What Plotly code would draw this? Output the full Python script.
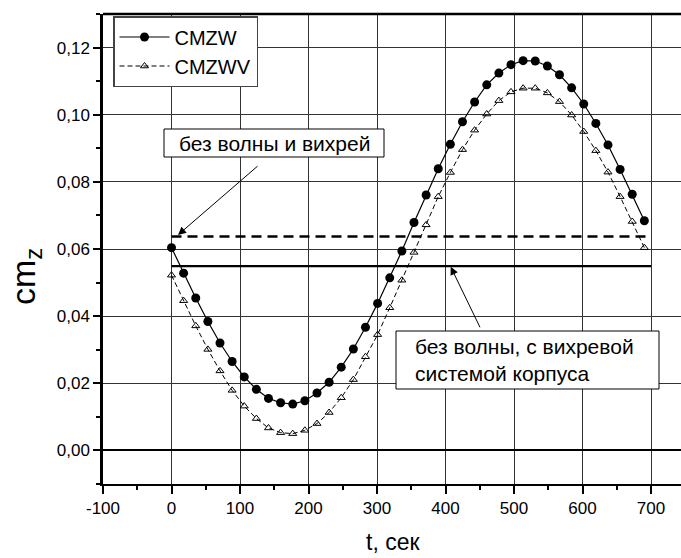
import plotly.graph_objects as go

t = [0, 17.7, 35.4, 53.1, 70.8, 88.5, 106.2, 123.9, 141.6, 159.3,
     177.0, 194.7, 212.4, 230.1, 247.8, 265.5, 283.2, 300.9, 318.6, 336.3,
     354.0, 371.7, 389.4, 407.1, 424.8, 442.5, 460.2, 477.9, 495.6, 513.3,
     531.0, 548.7, 566.4, 584.1, 601.8, 619.5, 637.2, 654.9, 672.6, 690.3]

cmzw = [0.0604, 0.0528, 0.0454, 0.0384, 0.0320, 0.0265, 0.0219, 0.0182, 0.0155, 0.0142,
        0.0138, 0.0148, 0.0171, 0.0203, 0.0248, 0.0302, 0.0367, 0.0438, 0.0514, 0.0594,
        0.0679, 0.0761, 0.0839, 0.0912, 0.0979, 0.1038, 0.1089, 0.1124, 0.1149, 0.1161,
        0.1160, 0.1145, 0.1119, 0.1080, 0.1032, 0.0974, 0.0910, 0.0837, 0.0763, 0.0684]

cmzwv = [0.0522, 0.0446, 0.0371, 0.0301, 0.0237, 0.0179, 0.0132, 0.0095, 0.0067, 0.0053,
         0.0050, 0.0060, 0.0080, 0.0113, 0.0157, 0.0211, 0.0279, 0.0345, 0.0425, 0.0507,
         0.0590, 0.0672, 0.0756, 0.0828, 0.0896, 0.0954, 0.1002, 0.1042, 0.1068, 0.1079,
         0.1079, 0.1065, 0.1039, 0.0999, 0.0950, 0.0893, 0.0829, 0.0756, 0.0682, 0.0604]

ref_t = [0, 700]
no_wave_no_vortex = [0.0637, 0.0637]
no_wave_hull_vortex = [0.0549, 0.0549]

x_ticks = [-100, 0, 100, 200, 300, 400, 500, 600, 700]
x_ticktext = ["-100", "0", "100", "200", "300", "400", "500", "600", "700"]
y_ticks = [0.00, 0.02, 0.04, 0.06, 0.08, 0.10, 0.12]
y_ticktext = ["0,00", "0,02", "0,04", "0,06", "0,08", "0,10", "0,12"]

FONT = "Arial, 'Liberation Sans', sans-serif"

fig = go.Figure()

fig.add_trace(go.Scatter(x=ref_t, y=no_wave_no_vortex, mode="lines",
                         line=dict(color="black", width=2.5, dash="10px,6px"),
                         showlegend=False, hoverinfo="skip"))
fig.add_trace(go.Scatter(x=ref_t, y=no_wave_hull_vortex, mode="lines",
                         line=dict(color="black", width=2.2),
                         showlegend=False, hoverinfo="skip"))

fig.add_trace(go.Scatter(x=t, y=cmzw, mode="lines+markers", name="CMZW",
                         line=dict(color="black", width=1.2),
                         marker=dict(symbol="circle", size=9, color="black")))
fig.add_trace(go.Scatter(x=t, y=cmzwv, mode="lines+markers", name="CMZWV",
                         line=dict(color="black", width=1, dash="5px,3px"),
                         marker=dict(symbol="triangle-up-open", size=7, color="black",
                                     line=dict(width=1, color="black"))))

def px_x(p):
    return (p - 103) / 578.0

def px_y(p):
    return 1 - (p - 14) / 470.0

shapes = [
    dict(type="line", xref="paper", yref="paper", x0=0, x1=1, y0=1, y1=1,
         line=dict(color="black", width=2.5)),
    dict(type="rect", xref="paper", yref="paper", x0=px_x(164), x1=px_x(384),
         y0=px_y(157), y1=px_y(129), fillcolor="white",
         line=dict(color="black", width=1), layer="above"),
    dict(type="rect", xref="paper", yref="paper", x0=px_x(396), x1=px_x(659),
         y0=px_y(389), y1=px_y(331), fillcolor="white",
         line=dict(color="black", width=1), layer="above"),
]

annotations = [
    dict(text="без волны и вихрей", xref="paper", yref="paper",
         x=px_x(274), y=px_y(143), xanchor="center", yanchor="middle",
         showarrow=False, font=dict(family=FONT, size=21, color="black")),
    dict(text="без волны, с вихревой<br>системой корпуса", xref="paper", yref="paper",
         x=px_x(413), y=px_y(360), xanchor="left", yanchor="middle", align="left",
         showarrow=False, font=dict(family=FONT, size=21, color="black")),
    dict(text="", x=9.5, y=0.0642, xref="x", yref="y", ax=81, ay=-70,
         showarrow=True, arrowhead=2, arrowsize=1.6, arrowwidth=1, arrowcolor="black"),
    dict(text="", x=407.6, y=0.0547, xref="x", yref="y", ax=30, ay=62,
         showarrow=True, arrowhead=2, arrowsize=1.6, arrowwidth=1, arrowcolor="black"),
    dict(text="cm<sub>z</sub>", xref="paper", yref="paper", x=px_x(25), y=px_y(276),
         xanchor="center", yanchor="middle", textangle=-90, showarrow=False,
         font=dict(family=FONT, size=34, color="black")),
    dict(text="t, сек", xref="paper", yref="paper", x=px_x(393), y=px_y(557),
         xanchor="center", yanchor="bottom", showarrow=False,
         font=dict(family=FONT, size=23, color="black")),
]

fig.update_layout(
    width=681, height=558,
    margin=dict(l=103, r=0, t=14, b=74),
    paper_bgcolor="white", plot_bgcolor="white",
    font=dict(family=FONT, color="black"),
    showlegend=True,
    legend=dict(x=px_x(113), y=px_y(16), xanchor="left", yanchor="top",
                bgcolor="white", bordercolor="#444", borderwidth=1.5,
                font=dict(family=FONT, size=20, color="black"),
                itemwidth=50, tracegroupgap=0),
    shapes=shapes,
    annotations=annotations,
)

fig.update_xaxes(range=[-100, 743.8], tickvals=x_ticks, ticktext=x_ticktext,
                 showgrid=True, gridcolor="#333", gridwidth=1,
                 zeroline=False, showline=True, linecolor="black", linewidth=2,
                 mirror=False, ticks="outside", ticklen=8, tickwidth=1.5, tickcolor="black",
                 tickfont=dict(family=FONT, size=17, color="black"),
                 minor=dict(dtick=50, tick0=0, ticks="outside", ticklen=4, tickwidth=1.5,
                            tickcolor="black", showgrid=False))
fig.update_yaxes(range=[-0.01, 0.13], tickvals=y_ticks, ticktext=y_ticktext,
                 showgrid=True, gridcolor="#333", gridwidth=1,
                 zeroline=True, zerolinecolor="black", zerolinewidth=2,
                 showline=True, linecolor="black", linewidth=2.5,
                 ticks="outside", ticklen=7, tickwidth=1.5, tickcolor="black",
                 tickfont=dict(family=FONT, size=17, color="black"),
                 minor=dict(dtick=0.01, tick0=0, ticks="outside", ticklen=4, tickwidth=1.5,
                            tickcolor="black", showgrid=False))

fig.write_html("out.html", config={"displayModeBar": False},
               post_script="document.body.style.margin='0';document.body.style.padding='0';")
